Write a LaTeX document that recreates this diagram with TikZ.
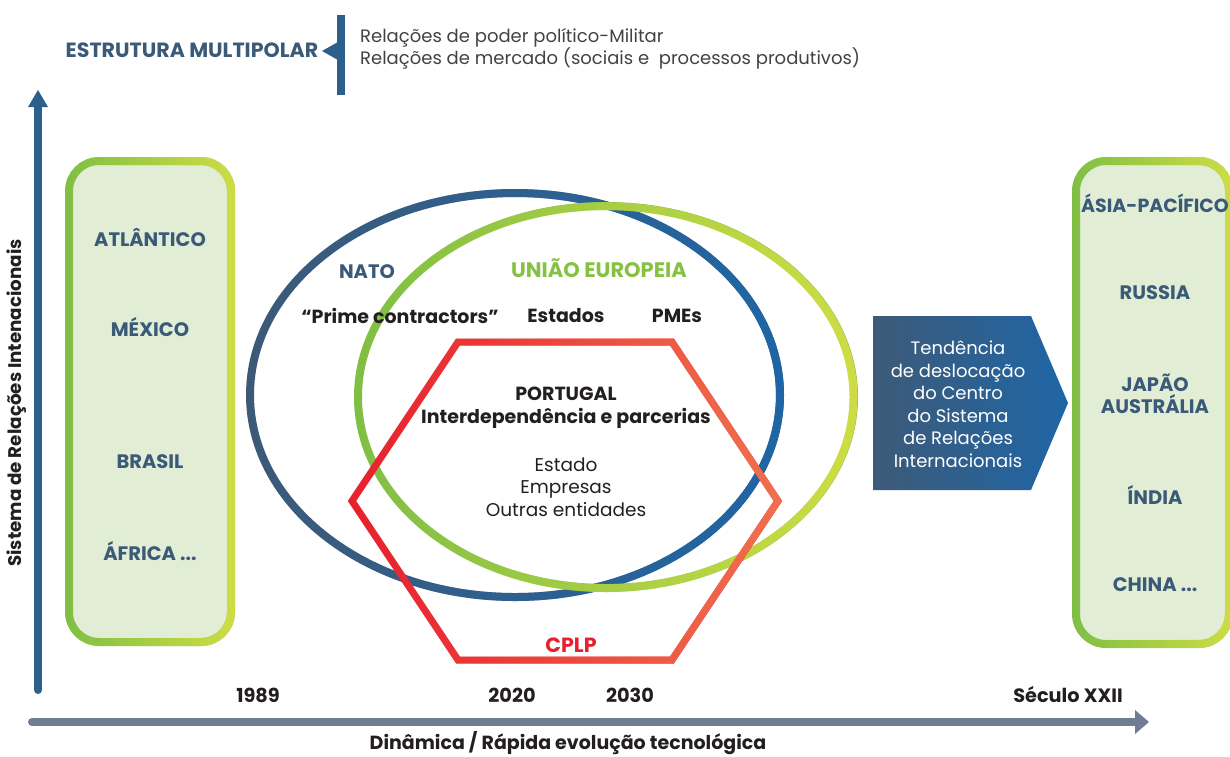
\documentclass[tikz,border=0pt]{standalone}
\usepackage{fontspec}
\setmainfont{Poppins}
\usetikzlibrary{fadings}
\definecolor{slate}{HTML}{3B5A78}
\definecolor{barblue}{HTML}{2C5F8C}
\definecolor{natoA}{HTML}{3D5A78}
\definecolor{natoB}{HTML}{1F66A6}
\definecolor{euA}{HTML}{80BF45}
\definecolor{euB}{HTML}{CFDD44}
\definecolor{boxfill}{HTML}{E1EDD5}
\definecolor{hexA}{HTML}{E8202E}
\definecolor{hexB}{HTML}{F1704E}
\definecolor{axisgrey}{HTML}{6F7C94}
\definecolor{ink}{HTML}{231F20}
\definecolor{eutext}{HTML}{86C142}
\newcommand\fsz[1]{\fontsize{#1}{1.25\dimexpr #1pt\relax}\selectfont}
\tikzfading[name=toright, left color=transparent!100, right color=transparent!0]
\tikzset{
  lbl/.style={inner sep=0pt, text=slate, font=\fsz{19.5}\bfseries},
  dark/.style={inner sep=0pt, text=ink, font=\fsz{19}\bfseries},
  plain/.style={inner sep=0pt, text=ink, font=\fsz{18.5}},
  year/.style={inner sep=0pt, text=ink, font=\fsz{19.3}\bfseries},
}
\begin{document}
\begin{tikzpicture}[x=1pt,y=-1pt]
\useasboundingbox (0,0) rectangle (1230,756);
\clip (0,0) rectangle (1230,756);

% header
\node[lbl, font=\fsz{20.6}\bfseries] (multi) at (192,50) {ESTRUTURA MULTIPOLAR};
\fill[barblue] (337,15) rectangle (345,95);
\fill[barblue] (322,51) -- (338,42) -- (338,60) -- cycle;
\node[plain, font=\fsz{18}, anchor=west, align=left, text=ink!85] (rel) at (360,49)
  {Relações de poder político-Militar\\[-0.5pt]Relações de mercado (sociais e \ processos produtivos)};

% axes
\coordinate (vbot) at (38,690);
\coordinate (vtop) at (38,106);
\draw[barblue, line width=8, line cap=round] (vbot) -- (vtop);
\fill[barblue] (38,90) -- (28,107) -- (48,107) -- cycle;
\node[dark, font=\fsz{18.3}\bfseries, rotate=90] (vlab) at (17,403) {Sistema de Relações Intenacionais};

\coordinate (hl) at (32,722);
\coordinate (hr) at (1136,722);
\draw[axisgrey, line width=8, line cap=round] (hl) -- (hr);
\fill[axisgrey] (1149,722) -- (1135,710) -- (1135,734) -- cycle;
\node[dark] (hlab) at (568,743) {Dinâmica / Rápida evolução tecnológica};

\node[year] (y1989) at (258,695) {1989};
\node[year] (y2020) at (512,695) {2020};
\node[year] (y2030) at (630,695) {2030};
\node[year] (y22) at (1068,695) {Século XXII};

% left region box
\fill[boxfill, rounded corners=30] (69,161) rectangle (231,642);
\draw[euA, line width=8, rounded corners=30] (69,161) rectangle (231,642);
\draw[euB, line width=8, rounded corners=30, path fading=toright] (69,161) rectangle (231,642);
\node[lbl] (atl) at (150,237) {ATLÂNTICO};
\node[lbl] (mex) at (150,327) {MÉXICO};
\node[lbl] (bra) at (150,462) {BRASIL};
\node[lbl] (afr) at (150,551) {ÁFRICA ...};

% right region box
\fill[boxfill, rounded corners=30] (1076,161) rectangle (1229,644);
\draw[euA, line width=8, rounded corners=30] (1076,161) rectangle (1229,644);
\draw[euB, line width=8, rounded corners=30, path fading=toright] (1076,161) rectangle (1229,644);
\node[lbl, font=\fsz{19}\bfseries] (asia) at (1155,203) {ÁSIA-PACÍFICO};
\node[lbl] (rus) at (1155,293) {RUSSIA};
\node[lbl, align=center] (jap) at (1155,394) {JAPÃO\\[-2.4pt]AUSTRÁLIA};
\node[lbl] (ind) at (1155,495) {ÍNDIA};
\node[lbl] (chi) at (1155,585) {CHINA ...};

% shift arrow
\shade[left color=natoA, right color=natoB]
  (873,316) -- (1031,316) -- (1068,403) -- (1031,490) -- (873,490) -- cycle;
\node[plain, font=\fsz{18}, text=white, align=center] (trend) at (958,404)
  {Tendência\\de deslocação\\do Centro\\do Sistema\\de Relações\\Internacionais};

% NATO and EU
\draw[natoA, line width=8] (515,395) ellipse (265 and 202);
\draw[natoB, line width=8, path fading=toright] (515,395) ellipse (265 and 202);
\draw[euA, line width=8] (606,397) ellipse (248 and 191);
\draw[euB, line width=8, path fading=toright] (606,397) ellipse (248 and 191);

% CPLP hexagon
\draw[hexA, line width=7, line join=miter]
  (458,342) -- (672,342) -- (778,501) -- (672,660) -- (458,660) -- (352,501) -- cycle;
\draw[hexB, line width=7, line join=miter, path fading=toright]
  (458,342) -- (672,342) -- (778,501) -- (672,660) -- (458,660) -- (352,501) -- cycle;

\node[lbl] (nato) at (367,272) {NATO};
\node[lbl, font=\fsz{21}\bfseries, text=eutext] (eu) at (599,268) {UNIÃO EUROPEIA};
\node[dark] (prime) at (400,316) {“Prime contractors”};
\node[dark] (est) at (566,316) {Estados};
\node[dark] (pme) at (677,316) {PMEs};
\node[dark, align=center] (pt) at (566,408) {PORTUGAL\\[-1pt]Interdependência e parcerias};
\node[plain, align=center] (act) at (566,487) {Estado\\[-0.6pt]Empresas\\[-0.6pt]Outras entidades};
\node[lbl, font=\fsz{20.6}\bfseries, text=hexA] (cplp) at (571,645) {CPLP};
\end{tikzpicture}
\end{document}
